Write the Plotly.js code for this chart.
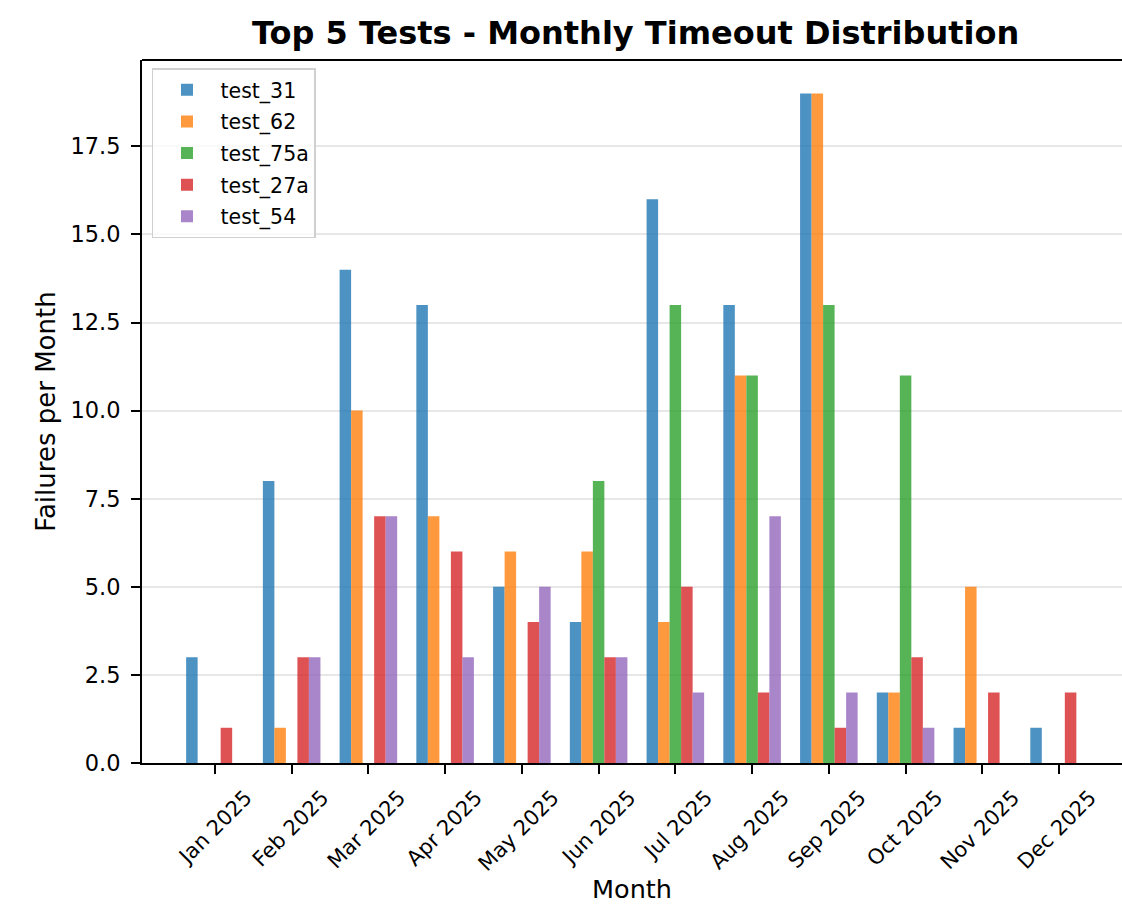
<!DOCTYPE html>
<html>
<head>
<meta charset="utf-8">
<script src="https://cdn.plot.ly/plotly-3.0.1.min.js"></script>
<style>html,body{margin:0;padding:0;background:#fff;}#chart{width:1122px;height:904px;}</style>
</head>
<body>
<div id="chart"></div>
<script>
const months = ["Jan 2025","Feb 2025","Mar 2025","Apr 2025","May 2025","Jun 2025","Jul 2025","Aug 2025","Sep 2025","Oct 2025","Nov 2025","Dec 2025"];
const test_31  = [3, 8, 14, 13, 5, 4, 16, 13, 19, 2, 1, 1];
const test_62  = [0, 1, 10, 7, 6, 6, 4, 11, 19, 2, 5, 0];
const test_75a = [0, 0, 0, 0, 0, 8, 13, 11, 13, 11, 0, 0];
const test_27a = [1, 3, 7, 6, 4, 3, 5, 2, 1, 3, 2, 2];
const test_54  = [0, 3, 7, 3, 5, 3, 2, 7, 2, 1, 0, 0];
const seriesNames = ["test_31","test_62","test_75a","test_27a","test_54"];
const seriesValues = [test_31, test_62, test_75a, test_27a, test_54];
const colors = ["rgba(31,119,180,0.8)","rgba(255,127,14,0.8)","rgba(44,160,44,0.8)","rgba(214,39,40,0.8)","rgba(148,103,189,0.8)"];
const yTicks = [0, 2.5, 5, 7.5, 10, 12.5, 15, 17.5];

const font = "DejaVu Sans, sans-serif";
const traces = seriesNames.map((n, i) => ({
  type: "bar", name: n, x: months, y: seriesValues[i],
  legendgroup: n,
  marker: {color: colors[i], line: {width: 0}},
  hoverinfo: "x+y+name"
}));

const layout = {
  width: 1122, height: 904,
  margin: {l: 142, r: 0, t: 60, b: 141, pad: 0},
  paper_bgcolor: "#fff", plot_bgcolor: "#fff",
  barmode: "group", bargap: 0.25, bargroupgap: 0,
  title: {text: "<b>Top 5 Tests - Monthly Timeout Distribution</b>", font: {family: font, size: 32, color: "#000"}, x: 0.5665, xanchor: "center", y: 0.964, yanchor: "middle"},
  xaxis: {
    type: "category", range: [-0.95, 11.82],
    showline: true, linecolor: "#000", linewidth: 2,
    ticks: "outside", ticklen: 9, tickwidth: 2, tickcolor: "#000",
    tickangle: -45, tickfont: {family: font, size: 21, color: "#000"},
    ticklabelshift: 31, ticklabelstandoff: 3,
    showgrid: false, zeroline: false,
    title: {text: "Month", font: {family: font, size: 25.5, color: "#000"}, standoff: 15},
    automargin: false
  },
  yaxis: {
    range: [0, 19.95],
    showline: true, linecolor: "#000", linewidth: 2,
    ticks: "outside", ticklen: 9, tickwidth: 2, tickcolor: "#000",
    tickvals: yTicks, ticktext: yTicks.map(v => v.toFixed(1)),
    tickfont: {family: font, size: 22.5, color: "#000"},
    ticklabelstandoff: 6,
    showgrid: true, gridcolor: "rgba(176,176,176,0.3)", gridwidth: 2,
    zeroline: false,
    title: {text: "Failures per Month", font: {family: font, size: 26, color: "#000"}, standoff: 7},
    automargin: false
  },
  showlegend: true,
  legend: {
    x: 0.0102, y: 0.988, xanchor: "left", yanchor: "top",
    bgcolor: "rgba(255,255,255,0.8)", bordercolor: "#d0d0d0", borderwidth: 1.5,
    font: {family: font, size: 20.5, color: "#000"},
    tracegroupgap: 2, itemwidth: 57
  },
  shapes: [
    {type: "line", xref: "paper", yref: "paper", x0: 0, x1: 1, y0: 1, y1: 1, line: {color: "#000", width: 2}}
  ]
};

Plotly.newPlot("chart", traces, layout, {displayModeBar: false, staticPlot: true});
</script>
</body>
</html>
